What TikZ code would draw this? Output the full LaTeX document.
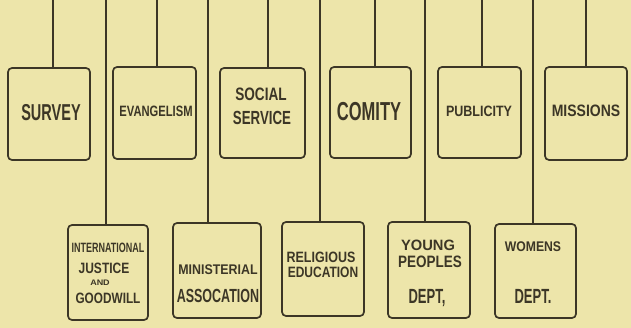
\documentclass[tikz,border=0pt]{standalone}
\usepackage{fontspec}
\setmainfont{Liberation Sans}
\usepackage{graphicx}
\definecolor{paper}{RGB}{237,229,170}
\definecolor{ink}{RGB}{60,54,38}
\newcommand\txs[3]{\scalebox{#1}[#2]{#3}}
\begin{document}
\begin{tikzpicture}[x=1pt,y=-1pt,
  box/.style={draw=ink, line width=1.7pt, rounded corners=4pt, fill=paper, inner sep=0pt},
  lab/.style={text=ink, anchor=base, inner sep=0pt, font=\fontsize{10}{12}\selectfont\bfseries},
  wire/.style={draw=ink, line width=1.6pt}]
\fill[paper] (0,0) rectangle (631,328);
\useasboundingbox (0,0) rectangle (631,328);
% top row boxes
\node[box, minimum width=82pt, minimum height=92pt] (survey) at (49,114) {};
\node[box, minimum width=83pt, minimum height=92pt] (evang) at (154.5,113) {};
\node[box, minimum width=85pt, minimum height=90pt] (social) at (262.5,113) {};
\node[box, minimum width=81pt, minimum height=91pt] (comity) at (370.5,112.5) {};
\node[box, minimum width=83pt, minimum height=91pt] (public) at (479.5,112.5) {};
\node[box, minimum width=82pt, minimum height=93pt] (missions) at (586,113.5) {};
% bottom row boxes
\node[box, minimum width=80pt, minimum height=95pt] (intl) at (108,272.5) {};
\node[box, minimum width=88pt, minimum height=95pt] (minist) at (217,270.5) {};
\node[box, minimum width=82pt, minimum height=94pt] (relig) at (323,269) {};
\node[box, minimum width=82pt, minimum height=96pt] (young) at (429,270) {};
\node[box, minimum width=81pt, minimum height=94pt] (women) at (535.5,271) {};
% connectors, top row
\coordinate (c1) at (53,0);
\coordinate (c2) at (157,0);
\coordinate (c3) at (268,0);
\coordinate (c4) at (375,0);
\coordinate (c5) at (482,0);
\coordinate (c6) at (586,0);
\draw[wire] (c1) -- (c1 |- survey.north);
\draw[wire] (c2) -- (c2 |- evang.north);
\draw[wire] (c3) -- (c3 |- social.north);
\draw[wire] (c4) -- (c4 |- comity.north);
\draw[wire] (c5) -- (c5 |- public.north);
\draw[wire] (c6) -- (c6 |- missions.north);
% connectors, bottom row
\coordinate (d1) at (106,0);
\coordinate (d2) at (208,0);
\coordinate (d3) at (320,0);
\coordinate (d4) at (425,0);
\coordinate (d5) at (533,0);
\draw[wire] (d1) -- (d1 |- intl.north);
\draw[wire] (d2) -- (d2 |- minist.north);
\draw[wire] (d3) -- (d3 |- relig.north);
\draw[wire] (d4) -- (d4 |- young.north);
\draw[wire] (d5) -- (d5 |- women.north);
% texts
\node[lab] (t1) at (51,121) {\txs{1.45}{2.3}{SURVEY}};
\node[lab] (t2) at (156,117) {\txs{1.12}{1.5}{EVANGELISM}};
\node[lab] (t3a) at (261,101) {\txs{1.36}{1.8}{SOCIAL}};
\node[lab] (t3b) at (262,125) {\txs{1.33}{1.9}{SERVICE}};
\node[lab] (t4) at (369,121) {\txs{1.65}{2.6}{COMITY}};
\node[lab] (t5) at (479,117) {\txs{1.25}{1.5}{PUBLICITY}};
\node[lab] (t6) at (586,117) {\txs{1.4}{1.65}{MISSIONS}};
\node[lab] (t7a) at (108,253) {\txs{0.9}{1.35}{INTERNATIONAL}};
\node[lab] (t7b) at (104,273) {\txs{1.2}{1.5}{JUSTICE}};
\node[lab] (t7c) at (100,286) {\txs{0.9}{0.8}{AND}};
\node[lab] (t7d) at (108,303) {\txs{1.18}{1.5}{GOODWILL}};
\node[lab] (t8a) at (218,275) {\txs{1.24}{1.4}{MINISTERIAL}};
\node[lab] (t8b) at (218,302) {\txs{1.25}{1.9}{ASSOCATION}};
\node[lab] (t9a) at (321,263) {\txs{1.25}{1.5}{RELIGIOUS}};
\node[lab] (t9b) at (323,278) {\txs{1.2}{1.5}{EDUCATION}};
\node[lab] (t10a) at (428,251) {\txs{1.47}{1.5}{YOUNG}};
\node[lab] (t10b) at (430,268) {\txs{1.35}{1.65}{PEOPLES}};
\node[lab] (t10c) at (427,303) {\txs{1.3}{2.05}{DEPT,}};
\node[lab] (t11a) at (533,252) {\txs{1.22}{1.4}{WOMENS}};
\node[lab] (t11b) at (533,303) {\txs{1.3}{2.05}{DEPT.}};
\end{tikzpicture}
\end{document}
